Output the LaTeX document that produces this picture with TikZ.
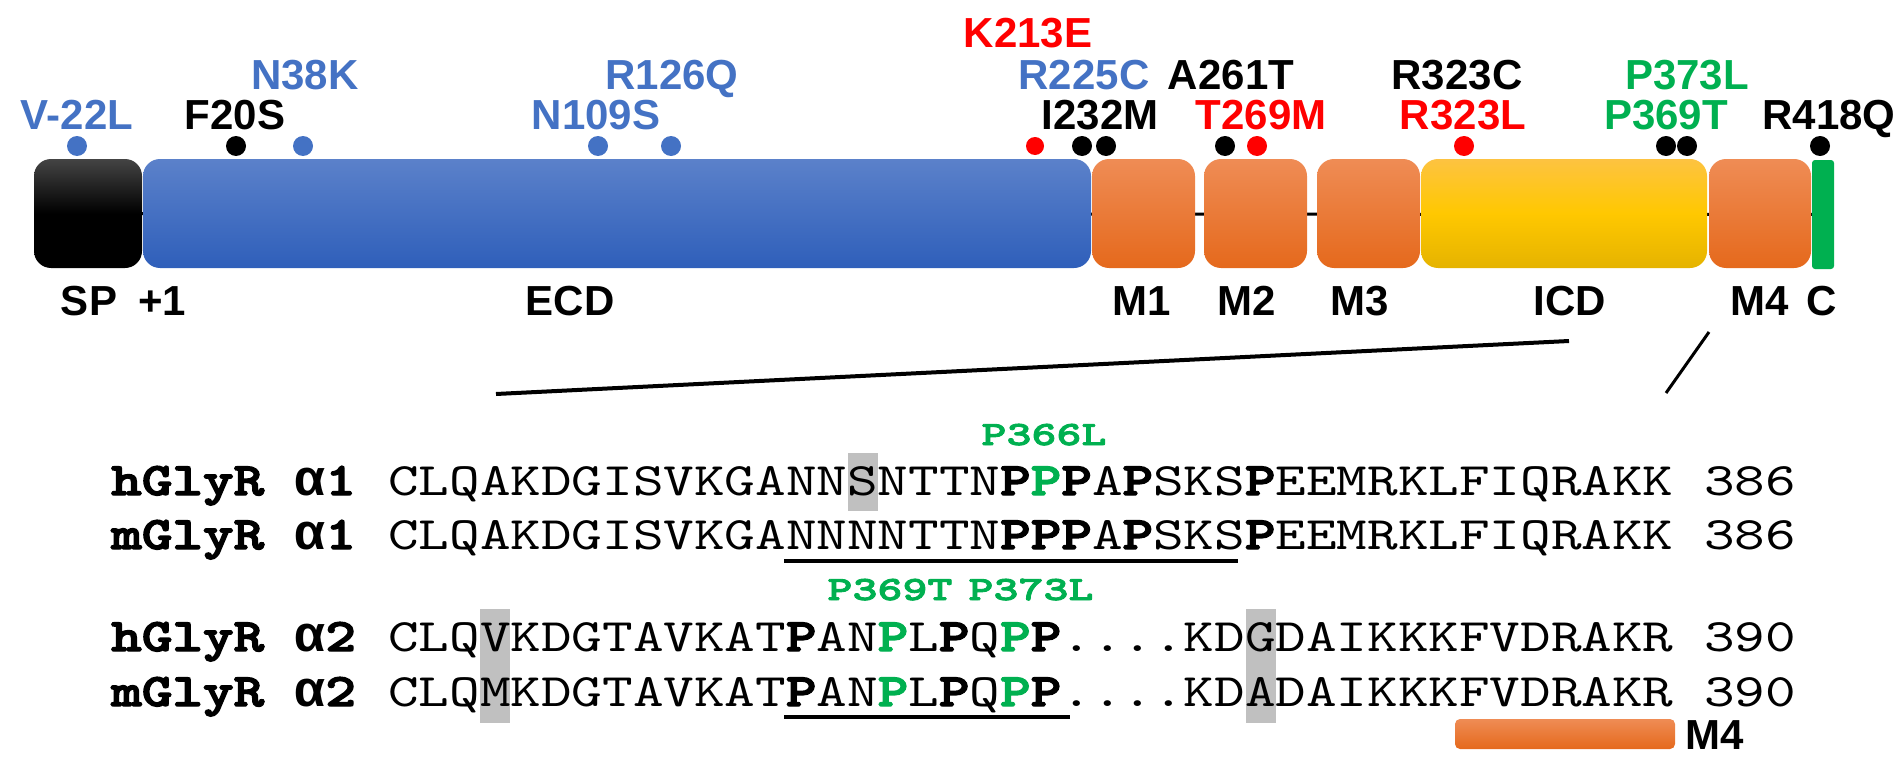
\documentclass[tikz,border=0pt]{standalone}
\usepackage{fontspec}
\setmainfont{Liberation Sans}
\setmonofont{Liberation Mono}
\newfontfamily\seqfont{lmmono10-regular.otf}[BoldFont=lmmonolt10-bold.otf, BoldFeatures={FakeBold=3}, FakeStretch=1.2535]
\newfontfamily\gfont{lmmonolt10-bold.otf}[FakeStretch=1.4, FakeBold=2.5]
\newfontfamily\alphafont{Liberation Mono}
\usetikzlibrary{backgrounds}
\definecolor{lblue}{HTML}{4472C4}
\definecolor{lred}{HTML}{FF0000}
\definecolor{lgreen}{HTML}{00B050}
\definecolor{ecdtop}{HTML}{5B81CA}
\definecolor{ecdbot}{HTML}{2F5FBA}
\definecolor{ortop}{HTML}{EF8C55}
\definecolor{orbot}{HTML}{E5691C}
\definecolor{yetop}{HTML}{FDC341}
\definecolor{yemid}{HTML}{FFC800}
\definecolor{yebot}{HTML}{E5B300}
\definecolor{sptop}{HTML}{444444}
\definecolor{hlgray}{HTML}{C0C0C0}
\newcommand\bP{\textbf{P}}
\newcommand\gP{\textcolor{lgreen}{\textbf{P}}}
\begin{document}
\begin{tikzpicture}[x=1pt,y=-1pt,
  lab/.style={font=\fontsize{42}{50}\selectfont\bfseries, inner sep=0pt, anchor=base},
  mut/.style={circle, inner sep=0pt, minimum size=20pt},
  dom/.style={inner sep=0pt, rounded corners=17pt, minimum height=109pt},
  ortm/.style={dom, top color=ortop, bottom color=orbot, minimum width=103pt},
  seq/.style={font=\fontsize{46.5}{55}\selectfont\seqfont, inner sep=0pt, anchor=base west},
  seqlab/.style={seq, font=\fontsize{46.5}{55}\selectfont\seqfont\bfseries},
  alab/.style={inner sep=0pt, anchor=base west, font=\fontsize{51}{60}\selectfont\alphafont\bfseries},
  glab/.style={font=\fontsize{34}{40}\selectfont\gfont, text=lgreen, inner sep=0pt, anchor=base},
  hl/.style={fill=hlgray, inner sep=0pt, minimum width=30pt},
  link/.style={line width=4pt}
]
\useasboundingbox (0,0) rectangle (1902,765);

% ---- domain bar ----
\node[dom, top color=sptop, bottom color=black, middle color=black, minimum width=108pt] (sp) at (88,213.5) {};
\node[dom, top color=ecdtop, bottom color=ecdbot, minimum width=948pt] (ecd) at (617,213.5) {};
\node[ortm] (m1) at (1143.5,213.5) {};
\node[ortm] (m2) at (1255.5,213.5) {};
\node[ortm] (m3) at (1368.5,213.5) {};
\node[dom, top color=yetop, bottom color=yebot, middle color=yemid, minimum width=286pt] (icd) at (1564,213.5) {};
\node[ortm, minimum width=102pt] (m4) at (1760,213.5) {};
\node[inner sep=0pt, rounded corners=3pt, fill=lgreen, minimum width=22pt, minimum height=109pt] (cterm) at (1823,214.5) {};
\begin{scope}[on background layer]
  \draw[line width=3pt] (sp) -- (cterm);
\end{scope}

% ---- domain labels ----
\node[lab] (lsp) at (89,315) {SP};
\node[lab] (lp1) at (162,315) {+1};
\node[lab] (lecd) at (570,315) {ECD};
\node[lab] (lm1) at (1142,315) {M1};
\node[lab] (lm2) at (1247,315) {M2};
\node[lab] (lm3) at (1360,315) {M3};
\node[lab] (licd) at (1570,315) {ICD};
\node[lab] (lm4) at (1760,315) {M4};
\node[lab] (lc) at (1822,315) {C};

% ---- mutation dots ----
\node[mut, fill=lblue] (d1) at (77,146) {};
\node[mut, fill=black] (d2) at (236,146) {};
\node[mut, fill=lblue] (d3) at (303,146) {};
\node[mut, fill=lblue] (d4) at (598,146) {};
\node[mut, fill=lblue] (d5) at (671,146) {};
\node[mut, fill=lred, minimum size=18pt] (d6) at (1035,146) {};
\node[mut, fill=black] (d7) at (1082,146) {};
\node[mut, fill=black] (d8) at (1106,146) {};
\node[mut, fill=black] (d9) at (1225,146) {};
\node[mut, fill=lred] (d10) at (1257,146) {};
\node[mut, fill=lred] (d11) at (1464,146) {};
\node[mut, fill=black] (d12) at (1666,146) {};
\node[mut, fill=black] (d13) at (1687,146) {};
\node[mut, fill=black] (d14) at (1820,146) {};

% ---- mutation labels ----
\node[lab, text=lblue] (tv22) at (77,130) {V-22L};
\node[lab] (tf20) at (235,130) {F20S};
\node[lab, text=lblue] (tn38) at (305,90) {N38K};
\node[lab, text=lblue] (tn109) at (596,130) {N109S};
\node[lab, text=lblue] (tr126) at (672,90) {R126Q};
\node[lab, text=lred] (tk213) at (1028,48) {K213E};
\node[lab, text=lblue] (tr225) at (1084,90) {R225C};
\node[lab] (ti232) at (1100,130) {I232M};
\node[lab] (ta261) at (1231,90) {A261T};
\node[lab, text=lred] (tt269) at (1261,130) {T269M};
\node[lab] (tr323c) at (1457,90) {R323C};
\node[lab, text=lred] (tr323l) at (1463,130) {R323L};
\node[lab, text=lgreen] (tp373) at (1687,90) {P373L};
\node[lab, text=lgreen] (tp369) at (1666,130) {P369T};
\node[lab] (tr418) at (1829,130) {R418Q};

% ---- zoom lines ----
\coordinate (z1a) at (1569,341);
\coordinate (z1b) at (496,394);
\coordinate (z2a) at (1709,332);
\coordinate (z2b) at (1666,393);
\draw[link] (z1a) -- (z1b);
\draw[line width=3pt] (z2a) -- (z2b);

% ---- highlight boxes ----
\node[hl, minimum height=58pt] (hs) at (862.5,482) {};
\node[hl, minimum height=114pt] (hv) at (495,666) {};
\node[hl, minimum height=114pt] (hg) at (1261,666) {};

% ---- alignment ----
\node[glab] (g366) at (1044,445) {P366L};
\node[glab] (g369) at (890,600) {P369T};
\node[glab] (g373) at (1031,600) {P373L};

\node[seqlab] (sl1) at (111,495) {hGlyR};
\node[seqlab] (sl2) at (111,549) {mGlyR};
\node[seqlab] (sl3) at (111,651) {hGlyR};
\node[seqlab] (sl4) at (111,706) {mGlyR};
\node[alab] (sa1) at (294.6,495) {α\seqfont\fontsize{46.5}{55}\selectfont\bfseries 1};
\node[alab] (sa2) at (294.6,549) {α\seqfont\fontsize{46.5}{55}\selectfont\bfseries 1};
\node[alab] (sa3) at (294.6,651) {α\seqfont\fontsize{46.5}{55}\selectfont\bfseries 2};
\node[alab] (sa4) at (294.6,706) {α\seqfont\fontsize{46.5}{55}\selectfont\bfseries 2};

\node[seq] (s1) at (388,495) {CLQAKDGISVKGANNSNTTN\bP\gP\bP A\bP SKS\bP EEMRKLFIQRAKK};
\node[seq] (s2) at (388,549) {CLQAKDGISVKGANNNNTTN\bP\bP\bP A\bP SKS\bP EEMRKLFIQRAKK};
\node[seq] (s3) at (388,651) {CLQVKDGTAVKAT\bP AN\gP L\bP Q\gP\bP....KDGDAIKKKFVDRAKR};
\node[seq] (s4) at (388,706) {CLQMKDGTAVKAT\bP AN\gP L\bP Q\gP\bP....KDADAIKKKFVDRAKR};

\node[seq] (n1) at (1704,495) {386};
\node[seq] (n2) at (1704,549) {386};
\node[seq] (n3) at (1704,651) {390};
\node[seq] (n4) at (1704,706) {390};

\coordinate (u1a) at (784,561);
\coordinate (u1b) at (1238,561);
\coordinate (u2a) at (784,717);
\coordinate (u2b) at (1070,717);
\draw[link] (u1a) -- (u1b);
\draw[link] (u2a) -- (u2b);

% ---- M4 bar ----
\node[inner sep=0pt, rounded corners=5pt, top color=ortop, bottom color=orbot, minimum width=220pt, minimum height=30pt] (m4bar) at (1565,734) {};
\node[lab, anchor=base west] (lm4b) at (1685,749) {M4};
\end{tikzpicture}
\end{document}
